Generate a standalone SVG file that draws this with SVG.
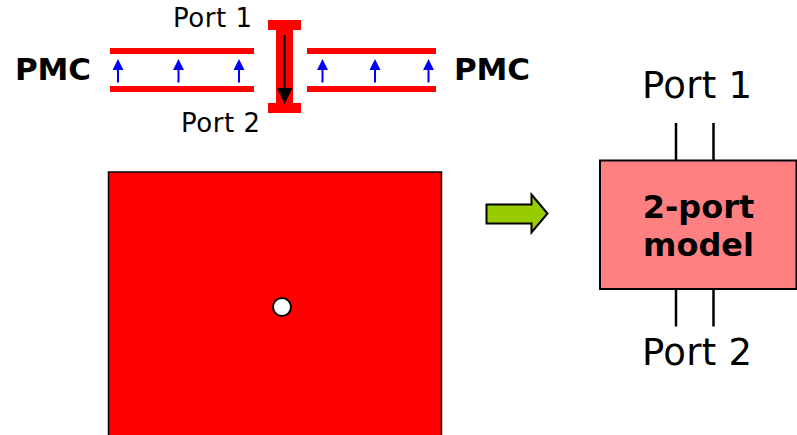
<svg xmlns="http://www.w3.org/2000/svg" width="797" height="435" viewBox="0 0 797 435">
<style>
text{font-family:"DejaVu Sans",sans-serif;fill:#000}
.b{font-weight:bold}
.red{fill:#f00}
.blue{stroke:#00f;stroke-width:2;fill:none}
.bh{fill:#00f}
.w{stroke:#000;stroke-width:2.500;fill:none}
</style>
<rect width="797" height="435" fill="#fff"/>
<g id="left-guide">
<rect class="red" x="110" y="48" width="144" height="6"/>
<rect class="red" x="110" y="86" width="144" height="6"/>
</g>
<g id="right-guide">
<rect class="red" x="307" y="48" width="129" height="6"/>
<rect class="red" x="307" y="86" width="129" height="6"/>
</g>
<g id="connectors">
<path class="blue" d="M118 82.500V70M178.500 82.500V70M239 82.500V70M322.500 82.500V70M375 82.500V70M428.500 82.500V70"/>
<path class="bh" d="M118 59l-5.500 11h11zM178.500 59l-5.500 11h11zM239 59l-5.500 11h11zM322.500 59l-5.500 11h11zM375 59l-5.500 11h11zM428.500 59l-5.500 11h11z"/>
<path class="w" d="M676 123V160M713.500 123V160M676 289V326.500M713.500 289V326.500"/>
</g>
<g id="i-port">
<path class="red" d="M268 20H301V30H293V103H301V113H268V103H276V30H268Z"/>
<path d="M284.500 35V90" stroke="#000" stroke-width="2" fill="none"/>
<path d="M277 88H292.500L284.500 104Z" fill="#000"/>
</g>
<g id="labels">
<text x="173" y="27" font-size="26" textLength="79">Port 1</text>
<text x="181" y="132" font-size="26" textLength="79">Port 2</text>
<text class="b" x="15" y="80" font-size="31" textLength="76">PMC</text>
<text class="b" x="454" y="80" font-size="31" textLength="76">PMC</text>
</g>
<g id="plate">
<rect class="red" x="108.500" y="172" width="333" height="270" stroke="#000" stroke-width="1.500"/>
<circle cx="282" cy="307" r="9" fill="#fff" stroke="#000" stroke-width="2"/>
</g>
<g id="arrow">
<path d="M486.500 204.500H531.500V194.500L547.500 213.500L531.500 232.500V223.500H486.500Z" fill="#9c0" stroke="#000" stroke-width="2"/>
</g>
<g id="model">
<rect x="600" y="160.500" width="196.500" height="128.500" fill="#ff8080" stroke="#000" stroke-width="2"/>
<text class="b" x="698.500" y="218" font-size="32" text-anchor="middle">2-port</text>
<text class="b" x="698.500" y="256" font-size="32" text-anchor="middle">model</text>
</g>
<g id="port-labels">
<text x="642" y="98" font-size="37" textLength="110">Port 1</text>
<text x="642" y="365" font-size="37" textLength="110">Port 2</text>
</g>
</svg>
